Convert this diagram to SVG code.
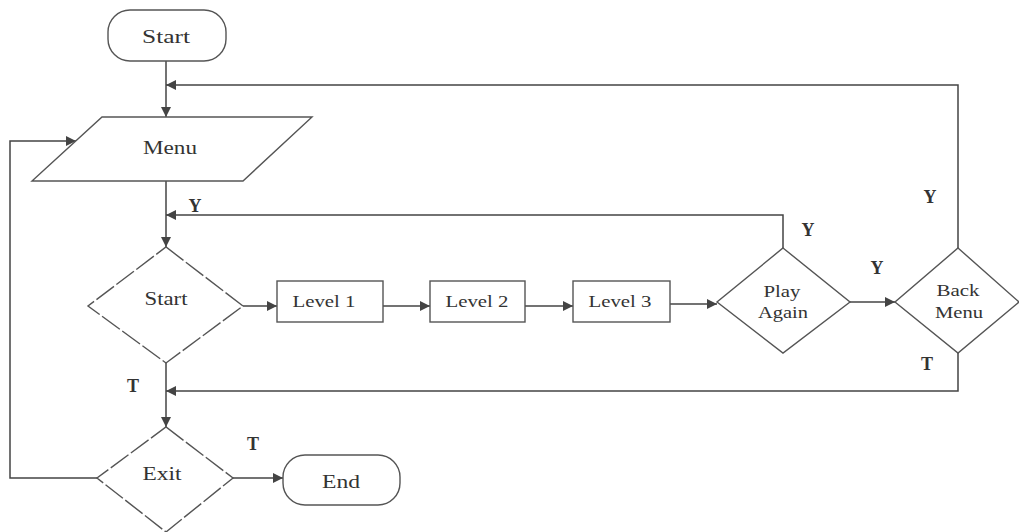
<svg xmlns="http://www.w3.org/2000/svg" width="1019" height="532" viewBox="0 0 1019 532">
<defs>
<marker id="ah" viewBox="0 0 10 10" refX="10" refY="5" markerWidth="12" markerHeight="10" markerUnits="userSpaceOnUse" orient="auto">
<path d="M0,0 L10,5 L0,10 Z" fill="#444"/>
</marker>
<style>
.shape{fill:#fff;stroke:#555;stroke-width:1.4}
.dash{stroke-dasharray:22 3}
.t{font-family:"Liberation Serif","Times New Roman",serif;font-size:18px;fill:#333;text-anchor:middle}
.s{font-size:17px}
.lbl{font-family:"Liberation Serif","Times New Roman",serif;font-size:18px;font-weight:bold;fill:#333;text-anchor:middle}
.c{fill:none;stroke:#444;stroke-width:1.5}
</style>
</defs>
<rect width="1019" height="532" fill="#fff"/>
<g id="connectors">
<path class="c" d="M166,61 V117" marker-end="url(#ah)"/>
<path class="c" d="M958,248 V85 H166" marker-end="url(#ah)"/>
<path class="c" d="M97,478 H10 V141 H76" marker-end="url(#ah)"/>
<path class="c" d="M166,181 V247" marker-end="url(#ah)"/>
<path class="c" d="M783,248 V215 H166" marker-end="url(#ah)"/>
<path class="c" d="M243,306 H277" marker-end="url(#ah)"/>
<path class="c" d="M383,306 H430" marker-end="url(#ah)"/>
<path class="c" d="M525,306 H573" marker-end="url(#ah)"/>
<path class="c" d="M670,304 H717" marker-end="url(#ah)"/>
<path class="c" d="M850,302 H895" marker-end="url(#ah)"/>
<path class="c" d="M958,353 V391 H166" marker-end="url(#ah)"/>
<path class="c" d="M166,363 V427" marker-end="url(#ah)"/>
<path class="c" d="M233,478 H283" marker-end="url(#ah)"/>
</g>
<g id="start">
<rect class="shape" x="108" y="10" width="118" height="51" rx="22"/>
<text class="t" x="166" y="43" textLength="48" lengthAdjust="spacingAndGlyphs">Start</text>
</g>
<g id="menu">
<polygon class="shape" points="102,117 312,117 243,181 32,181"/>
<text class="t" x="170" y="154" textLength="54" lengthAdjust="spacingAndGlyphs">Menu</text>
</g>
<g id="startDecision">
<polygon class="shape dash" points="166,247 243,306 166,363 88,306"/>
<text class="t" x="166" y="305" textLength="43" lengthAdjust="spacingAndGlyphs">Start</text>
</g>
<g id="level1">
<rect class="shape" x="277" y="281" width="106" height="41"/>
<text class="t s" x="324" y="307" textLength="63" lengthAdjust="spacingAndGlyphs">Level 1</text>
</g>
<g id="level2">
<rect class="shape" x="430" y="281" width="95" height="41"/>
<text class="t s" x="477" y="307" textLength="63" lengthAdjust="spacingAndGlyphs">Level 2</text>
</g>
<g id="level3">
<rect class="shape" x="573" y="281" width="97" height="41"/>
<text class="t s" x="620" y="307" textLength="63" lengthAdjust="spacingAndGlyphs">Level 3</text>
</g>
<g id="playAgain">
<polygon class="shape" points="783,248 850,302 783,353 717,302"/>
<text class="t s" x="782" y="297" textLength="37" lengthAdjust="spacingAndGlyphs">Play</text>
<text class="t s" x="783" y="318" textLength="50" lengthAdjust="spacingAndGlyphs">Again</text>
</g>
<g id="backMenu">
<polygon class="shape" points="958,248 1019,302 958,353 895,302"/>
<text class="t s" x="958" y="296" textLength="43" lengthAdjust="spacingAndGlyphs">Back</text>
<text class="t s" x="959" y="318" textLength="48" lengthAdjust="spacingAndGlyphs">Menu</text>
</g>
<g id="exit">
<polygon class="shape dash" points="166,427 233,478 166,532 97,478"/>
<text class="t" x="162" y="480" textLength="39" lengthAdjust="spacingAndGlyphs">Exit</text>
</g>
<g id="end">
<rect class="shape" x="283" y="455" width="117" height="50" rx="22"/>
<text class="t" x="341" y="488" textLength="38" lengthAdjust="spacingAndGlyphs">End</text>
</g>
<g id="labels">
<text class="lbl" x="195" y="212">Y</text>
<text class="lbl" x="808" y="236">Y</text>
<text class="lbl" x="877" y="274">Y</text>
<text class="lbl" x="930" y="203">Y</text>
<text class="lbl" x="927" y="370">T</text>
<text class="lbl" x="133" y="392">T</text>
<text class="lbl" x="253" y="450">T</text>
</g>
</svg>
